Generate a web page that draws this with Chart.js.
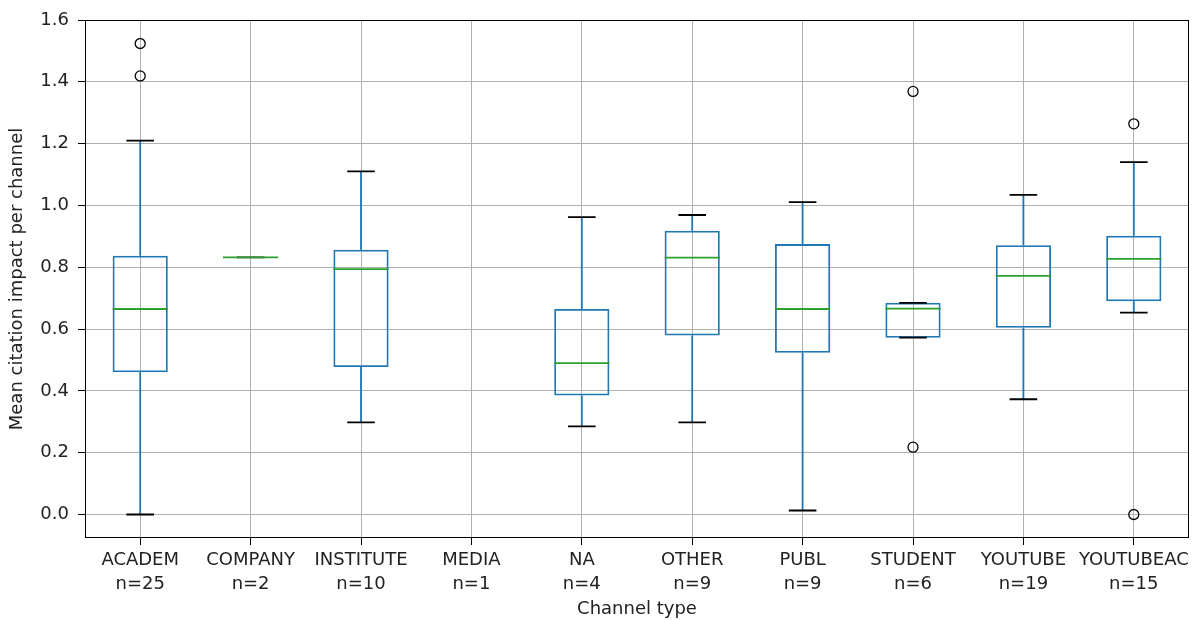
<!DOCTYPE html>
<html>
<head>
<meta charset="utf-8">
<script src="https://cdn.jsdelivr.net/npm/chart.js@4.4.0/dist/chart.umd.min.js"></script>
<style>
  html, body { margin: 0; padding: 0; background: #fff; }
  #wrap { width: 1196px; height: 620px; }
</style>
</head>
<body>
<div id="wrap"><canvas id="grafico"></canvas></div>
<script>
// ===== DADOS =====
const categorias = ['ACADEM', 'COMPANY', 'INSTITUTE', 'MEDIA', 'NA', 'OTHER', 'PUBL', 'STUDENT', 'YOUTUBE', 'YOUTUBEAC'];
const contagens = [25, 2, 10, 1, 4, 9, 9, 6, 19, 15];
const bigodeMin = [0.0, 0.832, 0.298, null, 0.285, 0.298, 0.013, 0.572, 0.373, 0.653];
const quartil1 = [0.460, 0.832, 0.477, null, 0.385, 0.579, 0.523, 0.572, 0.604, 0.690];
const mediana = [0.665, 0.832, 0.794, null, 0.490, 0.831, 0.665, 0.666, 0.772, 0.827];
const quartil3 = [0.837, 0.832, 0.857, null, 0.665, 0.918, 0.875, 0.685, 0.871, 0.902];
const bigodeMax = [1.210, 0.832, 1.110, null, 0.962, 0.969, 1.011, 0.685, 1.034, 1.140];
const outliers = [[1.524, 1.419], [], [], [], [], [], [], [1.369, 0.218], [], [1.264, 0.0]];
const ticksY = [0.0, 0.2, 0.4, 0.6, 0.8, 1.0, 1.2, 1.4, 1.6];

const AZUL = '#1f77b4';
const VERDE = '#2ca02c';
const FONTE = 'DejaVu Sans';
const ESPESSURA = 1.8;

// labels de duas linhas: nome + n
const labels = categorias.map((c, i) => [c, 'n=' + contagens[i]]);

const caixas = categorias.map((c, i) => quartil1[i] === null ? null : [quartil1[i], quartil3[i]]);

// x usa a mesma referência do label para o eixo de categorias achar a posição
const pontosOutliers = [];
outliers.forEach((lista, i) => {
    lista.forEach(v => pontosOutliers.push({ x: labels[i], y: v }));
});

// ===== PLUGIN: bigodes, medianas e moldura =====
const pluginBoxplot = {
    id: 'boxplot',
    afterDatasetsDraw(chart) {
        const ctx = chart.ctx;
        const x = chart.scales.x;
        const y = chart.scales.y;
        const meta = chart.getDatasetMeta(0);
        ctx.save();
        categorias.forEach((c, i) => {
            if (mediana[i] === null) return;
            const cx = x.getPixelForValue(i);
            const larg = meta.data[i] ? meta.data[i].width : 55;
            const capa = larg / 2;

            // bigodes
            ctx.strokeStyle = AZUL;
            ctx.lineWidth = ESPESSURA;
            ctx.beginPath();
            ctx.moveTo(cx, y.getPixelForValue(quartil1[i]));
            ctx.lineTo(cx, y.getPixelForValue(bigodeMin[i]));
            ctx.moveTo(cx, y.getPixelForValue(quartil3[i]));
            ctx.lineTo(cx, y.getPixelForValue(bigodeMax[i]));
            ctx.stroke();

            // tampas
            ctx.strokeStyle = '#000';
            ctx.beginPath();
            [bigodeMin[i], bigodeMax[i]].forEach(v => {
                const py = y.getPixelForValue(v);
                ctx.moveTo(cx - capa / 2, py);
                ctx.lineTo(cx + capa / 2, py);
            });
            ctx.stroke();

            // mediana
            ctx.strokeStyle = VERDE;
            ctx.beginPath();
            const pm = y.getPixelForValue(mediana[i]);
            ctx.moveTo(cx - larg / 2, pm);
            ctx.lineTo(cx + larg / 2, pm);
            ctx.stroke();
        });

        // moldura
        const a = chart.chartArea;
        ctx.strokeStyle = '#000';
        ctx.lineWidth = 1;
        ctx.strokeRect(a.left + 0.5, a.top + 0.5, a.right - a.left - 1, a.bottom - a.top - 1);
        ctx.restore();
    }
};

const grafico = new Chart(document.getElementById('grafico').getContext('2d'), {
    type: 'bar',
    data: {
        labels: labels,
        datasets: [
            {
                label: 'caixas',
                data: caixas,
                backgroundColor: 'rgba(0,0,0,0)',
                borderColor: AZUL,
                borderWidth: ESPESSURA,
                borderSkipped: false,
                barPercentage: 0.5,
                categoryPercentage: 1.0
            },
            {
                type: 'line',
                label: 'outliers',
                data: pontosOutliers,
                showLine: false,
                pointRadius: 5,
                pointStyle: 'circle',
                pointBorderColor: '#000',
                pointBackgroundColor: 'rgba(0,0,0,0)',
                pointBorderWidth: 1.3
            }
        ]
    },
    options: {
        responsive: true,
        maintainAspectRatio: false,
        animation: false,
        layout: { padding: { left: 0, right: 7, top: 20, bottom: 0 } },
        plugins: {
            legend: { display: false },
            tooltip: { enabled: false }
        },
        scales: {
            x: {
                type: 'category',
                offset: true,
                border: { display: false },
                grid: { offset: false, color: '#b0b0b0', lineWidth: 1, tickColor: '#000', tickLength: 7 },
                ticks: { color: '#222', font: { family: FONTE, size: 18, lineHeight: 1.35 }, padding: 3, maxRotation: 0, autoSkip: false },
                title: { display: true, text: 'Channel type', color: '#222', font: { family: FONTE, size: 18 }, padding: { top: 3, bottom: 0 } },
                afterFit(scale) { scale.height = 82; }
            },
            y: {
                min: -0.076,
                max: 1.6,
                border: { display: false },
                afterBuildTicks(scale) { scale.ticks = ticksY.map(v => ({ value: v })); },
                grid: { color: '#b0b0b0', lineWidth: 1, tickColor: '#000', tickLength: 7 },
                ticks: { color: '#222', font: { family: FONTE, size: 18 }, padding: 9, callback: v => v.toFixed(1) },
                title: { display: true, text: 'Mean citation impact per channel', color: '#222', font: { family: FONTE, size: 18 }, padding: { top: 7, bottom: 4 } },
                afterFit(scale) { scale.width = 85; }
            }
        }
    },
    plugins: [pluginBoxplot]
});
</script>
</body>
</html>
